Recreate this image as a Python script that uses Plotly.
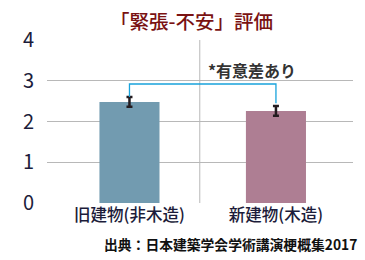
import plotly.graph_objects as go

categories = ["旧建物(非木造)", "新建物(木造)"]
values = [2.48, 2.26]
errors = [0.12, 0.12]
bar_colors = ["#729bb0", "#ae7e93"]
y_ticks = [0, 1, 2, 3, 4]
title_text = "「緊張-不安」評価"
sig_text = "*有意差あり"
source_text = "出典：日本建築学会学術講演梗概集2017"
bracket_y = [2.6, 2.92, 2.92, 2.45]

FONT = "Noto Sans CJK JP"

fig = go.Figure()
fig.add_trace(go.Bar(
    x=[0, 1], y=values, width=0.41,
    marker=dict(color=bar_colors, line=dict(width=0)),
    error_y=dict(type="data", array=errors, color="#241c20", thickness=2.5, width=3),
    hoverinfo="skip",
))
fig.add_trace(go.Scatter(
    x=[0, 0, 1, 1], y=bracket_y, mode="lines",
    line=dict(color="#19a3dc", width=1.3), hoverinfo="skip",
))
fig.add_shape(type="line", xref="x", yref="y", x0=0.48, x1=0.48, y0=0, y1=4,
              line=dict(color="#b8b8b8", width=1), layer="below")

fig.update_layout(
    width=365, height=260,
    margin=dict(l=47, r=12, t=40, b=57),
    paper_bgcolor="white", plot_bgcolor="white",
    showlegend=False,
    font=dict(family=FONT),
    xaxis=dict(range=[-0.563, 1.526], tickvals=[0, 1], ticktext=categories,
               showgrid=False, zeroline=False, showline=False, ticks="",
               tickfont=dict(size=16.5, color="#1c1c3a", family=FONT, weight=500)),
    yaxis=dict(range=[0, 4], tickvals=y_ticks, showgrid=True, gridcolor="#b8b8b8",
               gridwidth=1, zeroline=False, showline=False, ticks="",
               ticklabelstandoff=12,
               tickfont=dict(size=20, color="#1c1c3a", family=FONT)),
    annotations=[
        dict(text=title_text, xref="paper", yref="paper", x=(191-47)/306, y=1,
             yshift=20, showarrow=False, xanchor="center", yanchor="middle",
             font=dict(size=19.5, color="#7a1212", family=FONT, weight=500)),
        dict(text=sig_text, xref="x", yref="y", x=0.52, y=3.26, showarrow=False,
             xanchor="left", yanchor="middle",
             font=dict(size=16, color="#333333", family=FONT, weight=700)),
        dict(text=source_text, xref="paper", yref="paper",
             x=1, xshift=6, y=0, yshift=-41, showarrow=False,
             xanchor="right", yanchor="middle",
             font=dict(size=13.8, color="#111111", family=FONT, weight=700)),
    ],
)
fig.write_html("out.html")
